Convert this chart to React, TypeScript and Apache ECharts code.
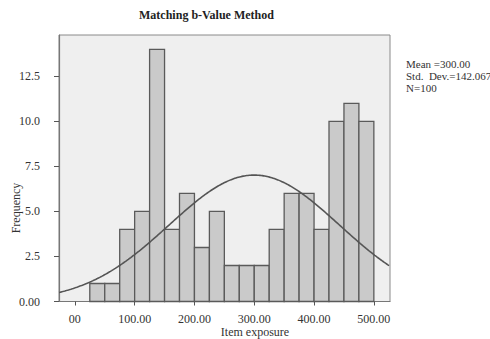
import React, { useEffect, useRef } from "react";
import * as echarts from "echarts";

const BIN_START = [25, 50, 75, 100, 125, 150, 175, 200, 225, 250, 275, 300, 325, 350, 375, 400, 425, 450, 475];
const BIN_WIDTH = 25;
const COUNTS = [1, 1, 4, 5, 14, 4, 6, 3, 5, 2, 2, 2, 4, 6, 6, 4, 10, 11, 10];
const X_TICKS = [0, 100, 200, 300, 400, 500];
const X_TICK_LABELS = ["00", "100.00", "200.00", "300.00", "400.00", "500.00"];
const Y_TICKS = [0, 2.5, 5, 7.5, 10, 12.5];
const Y_TICK_LABELS = ["0.00", "2.5", "5.0", "7.5", "10.0", "12.5"];
const MEAN = 300.0;
const STD = 142.067;
const N = 100;
const X_MIN = -26.5;
const X_MAX = 527;

const FONT = "'Liberation Serif', 'DejaVu Serif', serif";

export default function App() {
  const ref = useRef<HTMLDivElement>(null);
  useEffect(() => {
    if (!ref.current) return;
    const chart = echarts.init(ref.current, null, { renderer: "svg" });
    const bars = BIN_START.map((s, i) => [s, s + BIN_WIDTH, COUNTS[i]]);
    const curve: number[][] = [];
    const peak = (N * BIN_WIDTH) / (STD * Math.sqrt(2 * Math.PI));
    for (let x = X_MIN; x <= X_MAX + 0.001; x += 2) {
      const z = (x - MEAN) / STD;
      curve.push([x, peak * Math.exp(-0.5 * z * z)]);
    }
    chart.setOption({
      animation: false,
      backgroundColor: "#ffffff",
      grid: {
        left: 59,
        right: 100,
        top: 35,
        bottom: 37.5,
        show: true,
        backgroundColor: "#efefef",
        borderColor: "#8a8a8a",
        borderWidth: 1,
      },
      xAxis: {
        type: "value",
        min: X_MIN,
        max: X_MAX,
        splitLine: { show: false },
        axisLine: { show: true, onZero: false, lineStyle: { color: "#777", width: 1.2 } },
        axisTick: {
          show: true,
          customValues: X_TICKS,
          length: 4,
          lineStyle: { color: "#555" },
        },
        axisLabel: {
          customValues: X_TICKS,
          margin: 11,
          fontFamily: FONT,
          fontSize: 12,
          color: "#333",
          formatter: (v: number) => {
            const i = X_TICKS.indexOf(v);
            return i >= 0 ? X_TICK_LABELS[i] : "";
          },
        },
      },
      yAxis: {
        type: "value",
        min: 0,
        max: 14.8,
        splitLine: { show: false },
        axisLine: { show: true, onZero: false, lineStyle: { color: "#777", width: 1.2 } },
        axisTick: {
          show: true,
          customValues: Y_TICKS,
          length: 5,
          lineStyle: { color: "#555" },
        },
        axisLabel: {
          customValues: Y_TICKS,
          margin: 19,
          fontFamily: FONT,
          fontSize: 12,
          color: "#333",
          verticalAlign: "middle",
          padding: [0, 0, 3, 0],
          formatter: (v: number) => {
            const i = Y_TICKS.indexOf(v);
            return i >= 0 ? Y_TICK_LABELS[i] : "";
          },
        },
      },
      series: [
        {
          type: "custom",
          data: bars,
          encode: { x: [0, 1], y: 2 },
          renderItem: (params: any, api: any) => {
            const p0 = api.coord([api.value(0), 0]);
            const p1 = api.coord([api.value(1), api.value(2)]);
            return {
              type: "rect",
              shape: { x: p0[0], y: p1[1], width: p1[0] - p0[0], height: p0[1] - p1[1] },
              style: { fill: "#cacaca", stroke: "#5a5a5a", lineWidth: 1.3 },
            };
          },
          z: 2,
        },
        {
          type: "line",
          data: curve,
          showSymbol: false,
          lineStyle: { color: "#555", width: 1.6 },
          z: 3,
        },
      ],
      graphic: [
        {
          type: "text",
          style: {
            text: "Matching b-Value Method",
            x: 206.5,
            y: 15,
            align: "center",
            verticalAlign: "middle",
            font: `bold 12px ${FONT}`,
            fill: "#222",
          },
        },
        {
          type: "text",
          style: {
            text: "Item exposure",
            x: 255,
            y: 332,
            align: "center",
            verticalAlign: "middle",
            font: `12px ${FONT}`,
            fill: "#333",
          },
        },
        {
          type: "text",
          x: 16,
          y: 208,
          rotation: Math.PI / 2,
          style: {
            text: "Frequency",
            x: 0,
            y: 0,
            align: "center",
            verticalAlign: "middle",
            font: `12px ${FONT}`,
            fill: "#333",
          },
        },
        {
          type: "text",
          style: {
            text: "Mean =300.00\nStd.  Dev.=142.067\nN=100",
            x: 406,
            y: 58,
            align: "left",
            verticalAlign: "top",
            lineHeight: 12,
            font: `11px ${FONT}`,
            fill: "#333",
          },
        },
      ],
    });
    return () => chart.dispose();
  }, []);
  return <div ref={ref} style={{ width: 490, height: 339, position: "absolute", left: 0, top: 0 }} />;
}
